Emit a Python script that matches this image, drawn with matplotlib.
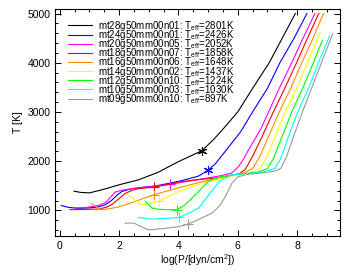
import numpy as np
import matplotlib
matplotlib.use("Agg")
import matplotlib.pyplot as plt
from matplotlib.ticker import MultipleLocator

plt.rcParams['font.family'] = ['Liberation Sans', 'DejaVu Sans']
plt.rcParams['mathtext.fontset'] = 'custom'
plt.rcParams['mathtext.rm'] = 'Liberation Sans'

# model names, Teff and colours
names = ['mt28g50mm00n01', 'mt24g50mm00n01', 'mt20g50mm00n05', 'mt18g50mm00n07',
         'mt16g50mm00n06', 'mt14g50mm00n02', 'mt12g50mm00n10', 'mt10g50mm00n03',
         'mt09g50mm00n10']
teffs = [2801, 2426, 2052, 1858, 1648, 1437, 1224, 1030, 897]
colors = ['black', '#0000ff', '#ff00ff', '#ff0000', '#ff8c00', '#ffff00',
          '#00ff00', '#00ffff', '#999999']

# log P / T profiles
black_p = [0.48, 0.7, 1.0, 1.5, 2.0, 2.65, 3.3, 4.0, 4.8, 5.2, 5.5, 6.0, 6.5, 7.06, 7.5, 7.94]
black_t = [1390, 1365, 1355, 1430, 1520, 1620, 1770, 1990, 2215, 2450, 2650, 3000, 3480, 4000, 4500, 5000]

blue_p = [0.05, 0.3, 0.62, 1.0, 1.3, 1.55, 1.75, 1.95, 2.1, 2.43, 2.8, 3.22, 3.6, 4.01, 4.4, 4.69,
          5.0, 5.25, 5.5, 5.8, 6.1, 6.5, 7.0, 7.42, 7.9, 8.33]
blue_t = [1097, 1060, 1041, 1050, 1070, 1120, 1205, 1320, 1385, 1440, 1470, 1495, 1540, 1590, 1650, 1700,
          1815, 1950, 2140, 2370, 2600, 3000, 3480, 4000, 4500, 5000]

mag_p = [0.51, 0.9, 1.3, 1.55, 1.7, 1.86, 2.1, 2.43, 3.05, 3.73, 4.3, 4.9, 5.4, 5.8, 6.04, 6.2,
         6.38, 6.55, 6.78, 7.0, 7.4, 7.82, 8.2, 8.6]
mag_t = [1049, 1060, 1097, 1160, 1260, 1370, 1410, 1440, 1480, 1530, 1590, 1650, 1700, 1760, 1900, 2050,
         2245, 2420, 2660, 2950, 3480, 4000, 4500, 5000]

red_p = [0.34, 0.8, 1.3, 1.55, 1.75, 2.0, 2.2, 2.45, 2.65, 3.16, 3.6, 4.01, 4.6, 5.14, 5.6, 6.04,
         6.25, 6.5, 6.78, 7.2, 7.6, 7.98, 8.35, 8.73]
red_t = [1014, 1018, 1027, 1060, 1117, 1240, 1343, 1410, 1440, 1470, 1520, 1575, 1620, 1650, 1690, 1740,
         1830, 2100, 2450, 3000, 3500, 4000, 4500, 5000]

orange_p = [1.07, 1.25, 1.41, 1.7, 1.98, 2.3, 2.65, 3.16, 3.6, 4.01, 4.6, 5.14, 5.5, 5.8, 6.2, 6.5,
            6.75, 7.0, 7.4, 7.8, 8.16, 8.5, 8.89]
orange_t = [1138, 1060, 1014, 1035, 1070, 1130, 1205, 1315, 1390, 1460, 1550, 1630, 1680, 1720, 1760, 1850,
            2100, 2450, 3000, 3500, 4000, 4450, 5000]

yellow_p = [2.26, 2.45, 2.6, 2.77, 3.0, 3.33, 3.7, 4.01, 4.4, 4.69, 5.1, 5.6, 6.0, 6.4, 6.75, 7.0,
            7.23, 7.6, 8.0, 8.35, 8.78]
yellow_t = [1322, 1260, 1170, 1117, 1130, 1190, 1290, 1390, 1470, 1528, 1600, 1665, 1720, 1760, 1850, 2100,
            2450, 3000, 3500, 4000, 4620]

green_p = [2.88, 3.0, 3.1, 3.3, 3.55, 3.95, 4.2, 4.58, 5.03, 5.4, 5.8, 6.3, 6.7, 7.0, 7.2, 7.46,
           7.82, 8.2, 8.55, 8.85]
green_t = [1185, 1110, 1050, 1025, 1014, 1014, 1100, 1322, 1600, 1680, 1720, 1750, 1780, 1850, 2050, 2450,
           3000, 3500, 4000, 4450]

cyan_p = [2.65, 2.9, 3.1, 3.66, 4.01, 4.3, 4.69, 5.03, 5.4, 5.8, 6.3, 6.8, 7.25, 7.45, 7.68, 8.02,
          8.4, 8.72, 9.1]
cyan_t = [856, 835, 823, 840, 856, 930, 1050, 1322, 1600, 1720, 1750, 1770, 1850, 2050, 2450, 3000,
          3500, 4000, 4550]

gray_p = [2.2, 2.5, 2.7, 2.99, 3.5, 4.01, 4.32, 4.7, 5.14, 5.4, 5.6, 5.8, 6.0, 6.3, 6.8, 7.2, 7.45,
          7.65, 7.85, 8.18, 8.5, 8.82, 9.2]
gray_t = [741, 741, 680, 604, 630, 671, 720, 820, 947, 1100, 1300, 1550, 1680, 1730, 1760, 1790, 1850,
          2100, 2450, 3000, 3500, 4000, 4590]

profiles_p = [black_p, blue_p, mag_p, red_p, orange_p, yellow_p, green_p, cyan_p, gray_p]
profiles_t = [black_t, blue_t, mag_t, red_t, orange_t, yellow_t, green_t, cyan_t, gray_t]

# marked points on each profile
mark_p = [4.8, 5.0, 3.73, 3.16, 3.18, 3.33, 3.95, 4.01, 4.32]
mark_t = [2215, 1815, 1530, 1470, 1315, 1190, 1014, 856, 720]

fig = plt.figure(figsize=(3.46, 2.75), dpi=100)
ax = fig.add_axes([0.16, 0.142, 0.823, 0.825])

for i in range(len(names)):
    lab = names[i] + ': T$_\\mathregular{eff}$=' + str(teffs[i]) + 'K'
    ax.plot(profiles_p[i], profiles_t[i], color=colors[i], lw=0.8, label=lab)
    mk = (6, 2, 0) if i < 2 else '+'
    ax.plot(mark_p[i], mark_t[i], marker=mk, color=colors[i], ms=6.5, mew=0.8, ls='none')

ax.set_xlim(-0.15, 9.45)
ax.set_ylim(480, 5090)
ax.xaxis.set_major_locator(MultipleLocator(2))
ax.xaxis.set_minor_locator(MultipleLocator(0.5))
ax.yaxis.set_major_locator(MultipleLocator(1000))
ax.yaxis.set_minor_locator(MultipleLocator(200))
ax.tick_params(which='both', direction='in', top=True, right=True, labelsize=7.5, width=0.7)
ax.tick_params(which='major', length=4)
ax.tick_params(which='minor', length=2)
for s in ax.spines.values():
    s.set_linewidth(0.8)

ax.set_xlabel('log(P/[dyn/cm$^\\mathregular{2}$])', fontsize=7.5, labelpad=1)
ax.set_ylabel('T [K]', fontsize=7.5, labelpad=3)

ax.legend(loc='upper left', bbox_to_anchor=(0.045, 0.957), frameon=False, fontsize=7,
          handlelength=2.5, handletextpad=0.6, labelspacing=-0.5, borderpad=0, borderaxespad=0)

fig.savefig('out.png', dpi=100)
